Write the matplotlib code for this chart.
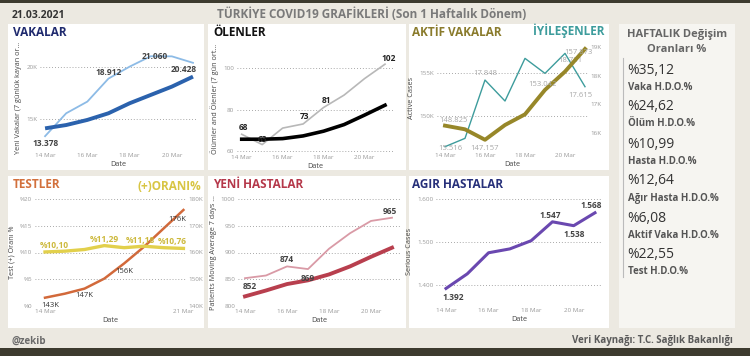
import matplotlib
matplotlib.use("Agg")
import matplotlib.pyplot as plt
from matplotlib.patches import Rectangle

# ---------------- data ----------------
dates = ['14 Mar', '15 Mar', '16 Mar', '17 Mar', '18 Mar', '19 Mar', '20 Mar', '21 Mar']
vaka_gunluk = [13378, 15580, 16700, 18912, 20060, 21060, 21050, 20428]
vaka_ort = [14130, 14450, 14940, 15580, 16540, 17340, 18140, 19100]
olum_gunluk = [68, 63, 71, 73, 81, 87, 95, 102]
olum_ort = [65.6, 65.6, 65.9, 67.2, 69.5, 72.7, 77.3, 82.1]
aktif = [148825, 148390, 147157, 148900, 150160, 153042, 155200, 157873]
iyilesen = [15516, 15808, 17848, 17114, 18606, 18081, 18781, 17615]
test = [143100, 144600, 146500, 150250, 155900, 162100, 169000, 175900]
pozitif = [10.10, 10.25, 10.56, 11.29, 10.90, 11.18, 10.90, 10.76]
hasta_gunluk = [852, 857, 874, 869, 907, 936, 959, 965]
hasta_ort = [818, 829, 841, 848, 859, 874, 892, 909]
agir = [1392, 1426, 1475, 1484, 1503, 1547, 1538, 1568]

oran_degerleri = ['%35,12', '%24,62', '%10,99', '%12,64', '%6,08', '%22,55']
oran_etiketleri = ['Vaka H.D.O.%', 'Ölüm H.D.O.%', 'Hasta H.D.O.%',
                   'Ağır Hasta H.D.O.%', 'Aktif Vaka H.D.O.%', 'Test H.D.O.%']

# ---------------- figure ----------------
W, H = 750, 356
FONT = ['Open Sans', 'DejaVu Sans']
plt.rcParams['font.family'] = FONT
fig = plt.figure(figsize=(W / 100, H / 100), dpi=100)
fig.patch.set_facecolor('#ece9e1')


def fx(x):
    return x / W


def fy(y):
    return 1 - y / H


def rect(x0, y0, x1, y1, color):
    fig.patches.append(Rectangle((fx(x0), fy(y1)), (x1 - x0) / W, (y1 - y0) / H,
                                 transform=fig.transFigure, facecolor=color,
                                 edgecolor='none', zorder=-5))


def ftext(x, y, s, **kw):
    fig.text(fx(x), fy(y), s, **kw)


# dark bars
rect(0, 0, 750, 3, '#3d3b2f')
rect(0, 348, 750, 356, '#3d3b2f')

# panels
for (x0, y0, x1, y1) in [(8, 24, 204, 170), (208, 24, 406, 170), (409, 24, 609, 170),
                         (8, 176, 204, 328), (208, 176, 406, 328), (409, 176, 609, 328)]:
    rect(x0, y0, x1, y1, '#ffffff')
rect(619, 24, 735, 328, '#f6f5f1')

# header / footer
ftext(12, 15, '21.03.2021', fontsize=7.5, fontweight='bold', color='#333333', va='center')
ftext(372, 14, 'TÜRKİYE COVID19 GRAFİKLERİ (Son 1 Haftalık Dönem)', fontsize=8.5,
      fontweight='bold', color='#7a7a7a', va='center', ha='center')
ftext(12, 341, '@zekib', fontsize=7, fontweight='bold', color='#6a6a6a', va='center')
ftext(733, 341, 'Veri Kaynağı: T.C. Sağlık Bakanlığı', fontsize=7, fontweight='bold',
      color='#5a5a5a', va='center', ha='right')

x = list(range(len(dates)))
GRID = dict(color='#8c8c8c', lw=0.6, linestyle=(0, (1, 2.5)))
TICK = dict(labelsize=4.5, labelcolor='#9a9a9a', length=0, pad=2)


def make_ax(l, r, t, b, xlim, ylim, yticks, ylabels, xt_idx, ylabel):
    ax = fig.add_axes([fx(l), fy(b), (r - l) / W, (b - t) / H])
    ax.set_zorder(3)
    ax.set_facecolor('none')
    for s in ax.spines.values():
        s.set_visible(False)
    ax.set_xlim(*xlim)
    ax.set_ylim(*ylim)
    ax.set_yticks(yticks)
    ax.set_yticklabels(ylabels)
    ax.set_xticks(xt_idx)
    ax.set_xticklabels([dates[i] for i in xt_idx])
    ax.tick_params(**TICK)
    for v in yticks:
        ax.axhline(v, zorder=0, **GRID)
    ax.set_ylabel(ylabel, fontsize=5.2, color='#444444', labelpad=3)
    ax.set_xlabel('Date', fontsize=5.2, color='#444444', labelpad=2)
    return ax


def twin(ax, ylim, yticks, ylabels):
    axb = ax.twinx()
    axb.set_position(ax.get_position())
    axb.set_zorder(2)
    axb.set_facecolor('none')
    for s in axb.spines.values():
        s.set_visible(False)
    axb.set_ylim(*ylim)
    axb.set_yticks(yticks)
    axb.set_yticklabels(ylabels)
    axb.tick_params(**TICK)
    return axb


def lab(ax, xi, yv, s, dx, dy, color='#444444', size=6, weight='bold'):
    ax.annotate(s, (xi, yv), xytext=(dx, dy), textcoords='offset points',
                ha='center', va='center', fontsize=size, fontweight=weight,
                color=color, annotation_clip=False, zorder=5)


def tr(v):
    return f"{v:,}".replace(',', '.')


# ---- Panel 1 : VAKALAR ----
ax1 = make_ax(40, 197, 45, 150, (-0.24, 7.19), (12050, 22140), [15000, 20000], ['15K', '20K'],
              [0, 2, 4, 6], 'Yeni Vakalar (7 günlük kayan or...')
ax1.plot(x, vaka_gunluk, color='#8dbbe6', lw=1.3, zorder=3)
ax1.plot(x, vaka_ort, color='#2b62ad', lw=2.8, zorder=4, solid_capstyle='butt')
lab(ax1, 0, vaka_gunluk[0], tr(vaka_gunluk[0]), 0, -5.5)
lab(ax1, 3, vaka_gunluk[3], tr(vaka_gunluk[3]), 0, 4.2)
lab(ax1, 5, vaka_gunluk[5], tr(vaka_gunluk[5]), 3, 0)
lab(ax1, 7, vaka_gunluk[7], tr(vaka_gunluk[7]), -7, -5)
ftext(13, 33, 'VAKALAR', fontsize=8.5, fontweight='bold', color='#1f2a6e', va='center')

# ---- Panel 2 : ÖLENLER ----
ax2 = make_ax(237, 393, 45, 152, (-0.23, 7.39), (59.4, 111.3), [60, 80, 100], ['60', '80', '100'],
              [0, 2, 4, 6], 'Ölümler and Ölenler (7 gün ort...')
ax2.plot(x, olum_gunluk, color='#b8b8b8', lw=1.2, zorder=3)
ax2.plot(x, olum_ort, color='#000000', lw=2.6, zorder=4)
lab(ax2, 0, olum_gunluk[0], '68', 1, 5, color='#222222')
lab(ax2, 1, olum_gunluk[1], '63', 0, 4, color='#222222')
lab(ax2, 3, olum_gunluk[3], '73', 1, 5.5, color='#222222')
lab(ax2, 4, olum_gunluk[4], '81', 2, 5, color='#222222')
lab(ax2, 7, olum_gunluk[7], '102', 2.4, 4, color='#222222')
ftext(213, 33, 'ÖLENLER', fontsize=8.5, fontweight='bold', color='#111111', va='center')

# ---- Panel 3 : AKTİF VAKALAR / İYİLEŞENLER ----
ax3 = make_ax(437, 588, 45, 150, (-0.4, 7.15), (145950, 158340), [150000, 155000], ['150K', '155K'],
              [0, 2, 4, 6], 'Active Cases')
ax3b = twin(ax3, (15400, 19074), [16000, 17000, 18000, 19000], ['16K', '17K', '18K', '19K'])
ax3b.plot(x, iyilesen, color='#3d9c9c', lw=1.0, zorder=3)
ax3.plot(x, aktif, color='#978729', lw=2.8, zorder=4)
LG = '#a8a8a8'
lab(ax3, 0, aktif[0], tr(aktif[0]), 6, 4, color=LG, size=5.5, weight='normal')
lab(ax3, 2, aktif[2], tr(aktif[2]), 0, -6, color=LG, size=5.5, weight='normal')
lab(ax3, 5, aktif[5], tr(aktif[5]), -2, 3.6, color=LG, size=5.5, weight='normal')
lab(ax3, 7, aktif[7], tr(aktif[7]), -5, -2.4, color=LG, size=5.5, weight='normal')
lab(ax3b, 0, iyilesen[0], tr(iyilesen[0]), 3.6, -1, color=LG, size=5.5, weight='normal')
lab(ax3b, 2, iyilesen[2], tr(iyilesen[2]), 0, 5, color=LG, size=5.5, weight='normal')
lab(ax3b, 6, iyilesen[6], tr(iyilesen[6]), 3.6, -5, color=LG, size=5.5, weight='normal')
lab(ax3b, 7, iyilesen[7], tr(iyilesen[7]), -3.6, -6.5, color=LG, size=5.5, weight='normal')
ftext(412, 33, 'AKTİF VAKALAR', fontsize=8.5, fontweight='bold', color='#8a7b2c', va='center')
ftext(605, 31, 'İYİLEŞENLER', fontsize=8.5, fontweight='bold', color='#3d9c9c', va='center', ha='right')

# ---- Panel 4 : TESTLER ----
ax4 = make_ax(35, 186, 199, 306, (-0.506, 7.13), (0, 20), [0, 5, 10, 15, 20],
              ['%0', '%5', '%10', '%15', '%20'], [0, 7], 'Test (+) Oranı %')
ax4b = twin(ax4, (140000, 180000), [140000, 150000, 160000, 170000, 180000],
            ['140K', '150K', '160K', '170K', '180K'])
ax4.plot(x, pozitif, color='#e2d04c', lw=2.4, zorder=3)
ax4b.plot(x, test, color='#d2693a', lw=1.8, zorder=4)
YL = '#cdb93c'
lab(ax4, 0, pozitif[0], '%10,10', 7, 4.3, color=YL, size=6)
lab(ax4, 3, pozitif[3], '%11,29', 0, 4.3, color=YL, size=6)
lab(ax4, 5, pozitif[5], '%11,18', -2.4, 3.8, color=YL, size=6)
lab(ax4, 7, pozitif[7], '%10,76', -8.4, 5, color=YL, size=6)
lab(ax4b, 0, test[0], '143K', 3.6, -5.5, color='#333333', size=5.5, weight='normal')
lab(ax4b, 2, test[2], '147K', 0, -4.8, color='#333333', size=5.5, weight='normal')
lab(ax4b, 4, test[4], '156K', 0, -6, color='#333333', size=5.5, weight='normal')
lab(ax4b, 7, test[7], '176K', -4.8, -6.7, color='#333333', size=5.5, weight='normal')
ftext(13, 185, 'TESTLER', fontsize=8.5, fontweight='bold', color='#d2703c', va='center')
ftext(201, 187, '(+)ORANI%', fontsize=8.5, fontweight='bold', color='#d8c544', va='center', ha='right')

# ---- Panel 5 : YENİ HASTALAR ----
ax5 = make_ax(238, 400, 199, 306, (-0.333, 7.38), (800, 1000), [800, 850, 900, 950, 1000],
              ['800', '850', '900', '950', '1000'], [0, 2, 4, 6], 'Patients Moving Average 7 days ...')
ax5.plot(x, hasta_gunluk, color='#d99aa6', lw=1.3, zorder=3)
ax5.plot(x, hasta_ort, color='#b83f4e', lw=2.8, zorder=4)
lab(ax5, 0, hasta_gunluk[0], '852', 3.6, -6)
lab(ax5, 2, hasta_gunluk[2], '874', 0, 4.8)
lab(ax5, 3, hasta_gunluk[3], '869', 0, -6.5)
lab(ax5, 7, hasta_gunluk[7], '965', -1.4, 4.8)
ftext(213, 185, 'YENİ HASTALAR', fontsize=8.5, fontweight='bold', color='#b5384a', va='center')

# ---- Panel 6 : AGIR HASTALAR ----
ax6 = make_ax(436, 602, 197, 305, (-0.47, 7.33), (1353.5, 1604.7), [1400, 1500, 1600],
              ['1.400', '1.500', '1.600'], [0, 2, 4, 6], 'Serious Cases')
ax6.plot(x, agir, color='#6a48b0', lw=2.2, zorder=3)
lab(ax6, 0, agir[0], tr(agir[0]), 5.3, -6.5)
lab(ax6, 5, agir[5], tr(agir[5]), -1.7, 4.8)
lab(ax6, 6, agir[6], tr(agir[6]), 0, -6.5)
lab(ax6, 7, agir[7], tr(agir[7]), -2.4, 5.3)
ftext(412, 185, 'AGIR HASTALAR', fontsize=8.5, fontweight='bold', color='#27307a', va='center')

# ---- Right panel ----
ftext(677, 34, 'HAFTALIK Değişim', fontsize=8, fontweight='bold', color='#666666', ha='center', va='center')
ftext(677, 49, 'Oranları %', fontsize=8, fontweight='bold', color='#666666', ha='center', va='center')
fig.add_artist(plt.Line2D([fx(623), fx(623)], [fy(58), fy(277)], color='#bbbbbb', lw=0.8,
                          transform=fig.transFigure))
for i, (v, l) in enumerate(zip(oran_degerleri, oran_etiketleri)):
    y0 = 70 + i * 37
    ftext(627, y0, v, fontsize=10, color='#333333', va='center')
    ftext(628, y0 + 17, l, fontsize=7, fontweight='bold', color='#555555', va='center')

fig.savefig('out.png', dpi=100, facecolor=fig.get_facecolor())
